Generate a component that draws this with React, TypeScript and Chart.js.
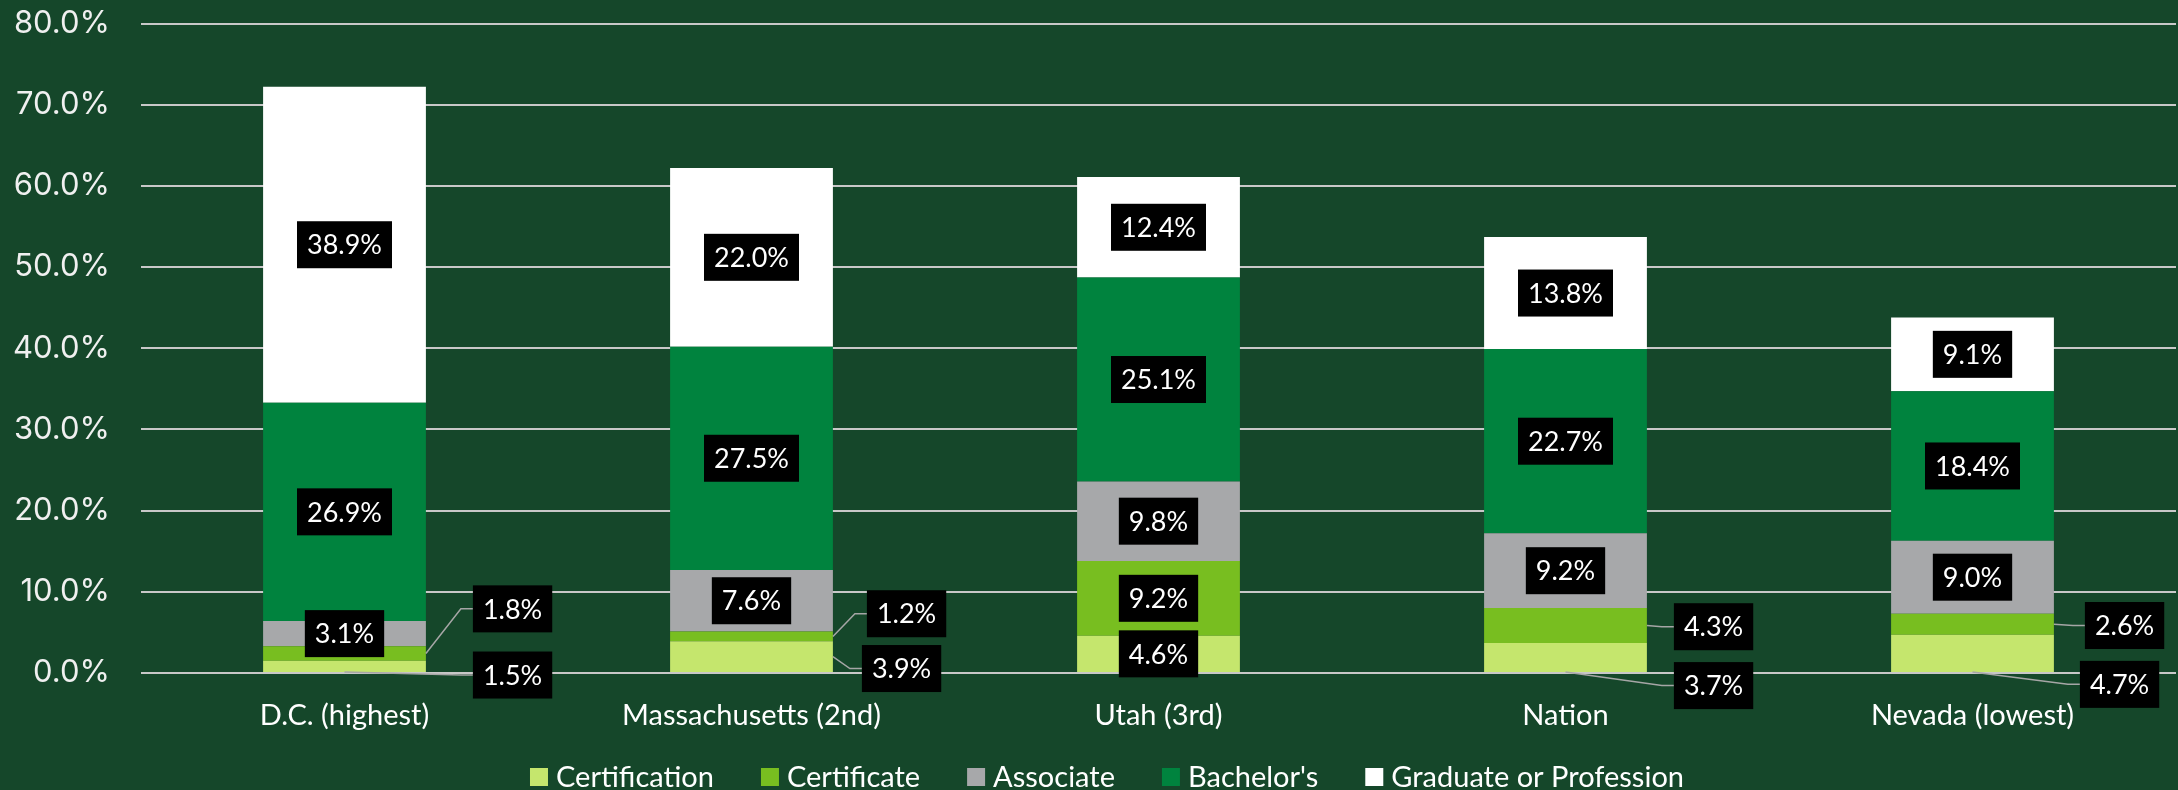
import React, { useEffect, useRef } from 'react';
import { Chart, registerables } from 'chart.js';

Chart.register(...registerables);

// ---------- data ----------
const categories = ['D.C. (highest)', 'Massachusetts (2nd)', 'Utah (3rd)', 'Nation', 'Nevada (lowest)'];
const seriesNames = ['Certification', 'Certificate', 'Associate', "Bachelor's", 'Graduate or Profession'];
const certification = [1.5, 3.9, 4.6, 3.7, 4.7];
const certificate = [1.8, 1.2, 9.2, 4.3, 2.6];
const associate = [3.1, 7.6, 9.8, 9.2, 9.0];
const bachelors = [26.9, 27.5, 25.1, 22.7, 18.4];
const graduate = [38.9, 22.0, 12.4, 13.8, 9.1];
const yMin = 0;
const yMax = 80;
const yStep = 10;

// ---------- styles ----------
const seriesColors = ['#c5e66d', '#78be20', '#a7a8aa', '#00833e', '#ffffff'];
const BG = '#15472a';
const LABEL_FONT = '27px Lato, "Liberation Sans", sans-serif';

// outside label placement: label centre in axis units, gap from bar edge in px, leader anchor
const outsideLabels = [
  { series: 1, cat: 0, at: 7.9, gap: 47, anchor: 'side' },
  { series: 0, cat: 0, at: -0.25, gap: 47, anchor: 'base' },
  { series: 1, cat: 1, at: 7.3, gap: 34, anchor: 'side' },
  { series: 0, cat: 1, at: 0.55, gap: 29, anchor: 'side' },
  { series: 1, cat: 3, at: 5.7, gap: 27, anchor: 'side' },
  { series: 0, cat: 3, at: -1.55, gap: 27, anchor: 'base' },
  { series: 1, cat: 4, at: 5.85, gap: 31, anchor: 'side' },
  { series: 0, cat: 4, at: -1.4, gap: 26, anchor: 'base' },
];

const bgPlugin = {
  id: 'bgFill',
  beforeDraw(chart: any) {
    const { ctx, width, height } = chart;
    ctx.save();
    ctx.fillStyle = BG;
    ctx.fillRect(0, 0, width, height);
    ctx.restore();
  },
};

const labelPlugin = {
  id: 'boxLabels',
  afterDatasetsDraw(chart: any) {
    const ctx = chart.ctx;
    const yScale = chart.scales.y;
    const boxes: any[] = [];
    const lines: any[] = [];
    chart.data.datasets.forEach((ds: any, di: number) => {
      const meta = chart.getDatasetMeta(di);
      meta.data.forEach((bar: any, ci: number) => {
        const v = ds.data[ci];
        const text = v.toFixed(1) + '%';
        const p = bar.getProps(['x', 'y', 'base', 'width'], true);
        const out = outsideLabels.find((o) => o.series === di && o.cat === ci);
        ctx.font = LABEL_FONT;
        const w = ctx.measureText(text).width + 20;
        const h = 47;
        if (out) {
          const right = p.x + p.width / 2;
          const left = right + out.gap;
          const cy = yScale.getPixelForValue(out.at);
          const start =
            out.anchor === 'base'
              ? { x: p.x, y: p.base }
              : { x: right, y: (p.y + p.base) / 2 };
          lines.push([start, { x: left - 12, y: cy }, { x: left, y: cy }]);
          boxes.push({ x: left, y: cy - h / 2, w, h, text });
        } else {
          const cy = (p.y + p.base) / 2;
          boxes.push({ x: p.x - w / 2, y: cy - h / 2, w, h, text });
        }
      });
    });
    ctx.save();
    ctx.strokeStyle = '#a6a6a6';
    ctx.lineWidth = 1.5;
    lines.forEach((pts) => {
      ctx.beginPath();
      ctx.moveTo(pts[0].x, pts[0].y);
      for (let i = 1; i < pts.length; i++) ctx.lineTo(pts[i].x, pts[i].y);
      ctx.stroke();
    });
    ctx.font = LABEL_FONT;
    ctx.textAlign = 'center';
    ctx.textBaseline = 'middle';
    boxes.forEach((b) => {
      ctx.fillStyle = '#000000';
      ctx.fillRect(b.x, b.y, b.w, b.h);
      ctx.fillStyle = '#ffffff';
      ctx.fillText(b.text, b.x + b.w / 2, b.y + b.h / 2 + 1);
    });
    ctx.restore();
  },
};

const legendPlugin = {
  id: 'customLegend',
  afterDraw(chart: any) {
    const ctx = chart.ctx;
    const font = '29px Lato, "Liberation Sans", sans-serif';
    const box = 18;
    const textGap = 8;
    const itemGap = 47;
    const cy = 777;
    const centerX = 1107;
    ctx.save();
    ctx.font = font;
    const items = chart.data.datasets.map((ds: any) => ({
      text: ds.label,
      color: ds.backgroundColor,
      w: ctx.measureText(ds.label).width,
    }));
    const total =
      items.reduce((s: number, it: any) => s + box + textGap + it.w, 0) + itemGap * (items.length - 1);
    let x = centerX - total / 2;
    ctx.textBaseline = 'middle';
    ctx.textAlign = 'left';
    items.forEach((it: any) => {
      ctx.fillStyle = it.color;
      ctx.fillRect(x, cy - box / 2, box, box);
      ctx.fillStyle = '#ffffff';
      ctx.fillText(it.text, x + box + textGap, cy + 1);
      x += box + textGap + it.w + itemGap;
    });
    ctx.restore();
  },
};

export default function App() {
  const ref = useRef<HTMLCanvasElement | null>(null);
  useEffect(() => {
    document.body.style.margin = '0';
    document.body.style.background = BG;
    const canvas = ref.current;
    if (!canvas) return;
    const values = [certification, certificate, associate, bachelors, graduate];
    const chart = new Chart(canvas, {
      type: 'bar',
      data: {
        labels: categories,
        datasets: seriesNames.map((name, i) => ({
          label: name,
          data: values[i],
          backgroundColor: seriesColors[i],
          borderWidth: 0,
          barPercentage: 0.4,
          categoryPercentage: 1.0,
          stack: 'all',
        })),
      },
      options: {
        responsive: false,
        animation: false,
        devicePixelRatio: 1,
        layout: { padding: { top: 23.5, right: 2, bottom: 57, left: 0 } },
        plugins: {
          legend: { display: false },
          tooltip: { enabled: false },
        },
        scales: {
          x: {
            stacked: true,
            grid: { display: false, drawTicks: false },
            border: { display: false },
            ticks: {
              color: '#ffffff',
              padding: 25,
              font: { family: 'Lato, "Liberation Sans", sans-serif', size: 29 },
            },
            afterFit(scale: any) {
              scale.height = 60;
            },
          },
          y: {
            stacked: true,
            min: yMin,
            max: yMax,
            grid: { color: '#c8c8c8', lineWidth: 2, drawTicks: false },
            border: { display: false },
            ticks: {
              stepSize: yStep,
              padding: 31,
              color: '#f0f0f0',
              font: { family: 'Inter, "Noto Sans", sans-serif', size: 31 },
              callback: (v: any) => Number(v).toFixed(1) + '%',
            },
            afterFit(scale: any) {
              scale.width = 141;
              scale.paddingTop = 0;
              scale.paddingBottom = 0;
            },
          },
        },
      },
      plugins: [bgPlugin, labelPlugin, legendPlugin],
    });
    return () => chart.destroy();
  }, []);
  return (
    <div style={{ width: 2178, height: 790 }}>
      <canvas ref={ref} width={2178} height={790} style={{ display: 'block' }} />
    </div>
  );
}
